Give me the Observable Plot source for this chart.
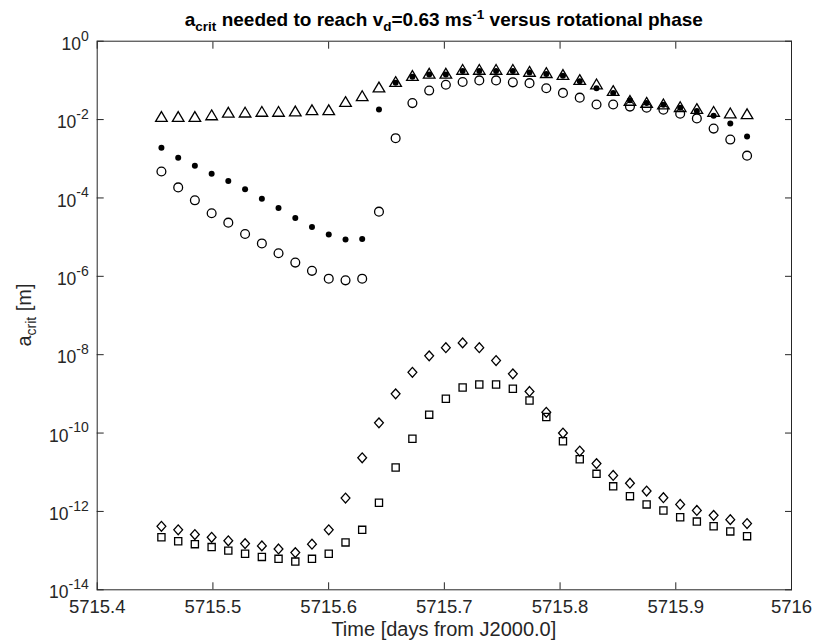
<!DOCTYPE html>
<html>
<head>
<meta charset="utf-8">
<script src="https://cdn.jsdelivr.net/npm/d3@7"></script>
<script src="https://cdn.jsdelivr.net/npm/@observablehq/plot@0.6"></script>
<style>
  html, body { margin: 0; padding: 0; background: #fff; }
  #chart { width: 813px; height: 643px; }
</style>
</head>
<body>
<div id="chart"></div>
<script>
// ---- data ----
const times = [5715.4555, 5715.4700, 5715.4844, 5715.4989, 5715.5133, 5715.5278, 5715.5423, 5715.5567,
  5715.5712, 5715.5856, 5715.6001, 5715.6146, 5715.6290, 5715.6435, 5715.6579, 5715.6724, 5715.6869,
  5715.7013, 5715.7158, 5715.7302, 5715.7447, 5715.7592, 5715.7736, 5715.7881, 5715.8025, 5715.8170,
  5715.8315, 5715.8459, 5715.8604, 5715.8748, 5715.8893, 5715.9038, 5715.9182, 5715.9327, 5715.9471, 5715.9616];

const triangles = [1.20e-2, 1.20e-2, 1.20e-2, 1.32e-2, 1.54e-2, 1.55e-2, 1.62e-2, 1.62e-2, 1.66e-2, 1.78e-2,
  1.78e-2, 2.88e-2, 4.07e-2, 6.76e-2, 9.33e-2, 0.133, 0.152, 0.152, 0.191, 0.191, 0.191, 0.191, 0.170, 0.158,
  0.141, 0.105, 8.13e-2, 5.50e-2, 3.09e-2, 2.75e-2, 2.51e-2, 2.14e-2, 1.91e-2, 1.62e-2, 1.48e-2, 1.41e-2];

const dots = [1.91e-3, 1.06e-3, 6.61e-4, 4.17e-4, 2.69e-4, 1.66e-4, 9.55e-5, 5.50e-5, 3.09e-5, 1.82e-5,
  1.17e-5, 8.7e-6, 8.9e-6, 1.82e-2, 8.7e-2, 0.123, 0.141, 0.141, 0.174, 0.174, 0.174, 0.174, 0.158, 0.145,
  0.132, 9.55e-2, 6.31e-2, 4.79e-2, 3.09e-2, 2.63e-2, 2.40e-2, 2.00e-2, 1.66e-2, 1.26e-2, 7.94e-3, 3.72e-3];

const circles = [4.73e-4, 1.86e-4, 8.7e-5, 4.07e-5, 2.34e-5, 1.20e-5, 6.9e-6, 3.89e-6, 2.24e-6, 1.38e-6,
  8.7e-7, 7.9e-7, 8.7e-7, 4.47e-5, 3.35e-3, 2.63e-2, 5.50e-2, 7.76e-2, 9.12e-2, 0.100, 0.100, 8.91e-2, 8.51e-2,
  6.31e-2, 4.79e-2, 3.63e-2, 2.43e-2, 2.43e-2, 2.14e-2, 2.00e-2, 1.78e-2, 1.41e-2, 1.07e-2, 5.89e-3, 3.09e-3, 1.20e-3];

const diamonds = [4.17e-13, 3.39e-13, 2.57e-13, 2.19e-13, 1.78e-13, 1.51e-13, 1.32e-13, 1.10e-13, 8.9e-14,
  1.46e-13, 3.39e-13, 2.19e-12, 2.34e-11, 1.82e-10, 1.0e-9, 3.55e-9, 9.33e-9, 1.51e-8, 2.0e-8, 1.51e-8, 7.08e-9,
  3.24e-9, 1.15e-9, 3.39e-10, 1.0e-10, 3.47e-11, 1.66e-11, 8.3e-12, 5.25e-12, 3.31e-12, 2.24e-12, 1.51e-12,
  1.06e-12, 7.94e-13, 6.17e-13, 4.90e-13];

const squares = [2.19e-13, 1.74e-13, 1.46e-13, 1.23e-13, 1.0e-13, 8.3e-14, 6.9e-14, 6.17e-14, 5.25e-14,
  6.17e-14, 8.3e-14, 1.62e-13, 3.39e-13, 1.66e-12, 1.32e-11, 7.16e-11, 2.95e-10, 7.5e-10, 1.45e-9, 1.74e-9,
  1.74e-9, 1.35e-9, 6.76e-10, 2.57e-10, 6.17e-11, 2.14e-11, 9.1e-12, 4.37e-12, 2.45e-12, 1.51e-12, 1.06e-12,
  7.08e-13, 5.50e-13, 4.17e-13, 3.09e-13, 2.34e-13];

const xTicks = [5715.4, 5715.5, 5715.6, 5715.7, 5715.8, 5715.9, 5716];
const yTicks = [1, 1e-2, 1e-4, 1e-6, 1e-8, 1e-10, 1e-12, 1e-14];

// ---- helpers ----
const rows = arr => times.map((t, i) => ({t, v: arr[i]}));
const triSym = {draw(ctx) { const w = 5.8, h = 4.9; ctx.moveTo(0, -h); ctx.lineTo(w, h); ctx.lineTo(-w, h); ctx.closePath(); }};
const diaSym = {draw(ctx) { const w = 4.4, h = 4.9; ctx.moveTo(0, -h); ctx.lineTo(w, 0); ctx.lineTo(0, h); ctx.lineTo(-w, 0); ctx.closePath(); }};
const AX = "#262626";
const FONT = "'Liberation Sans', Arial, Helvetica, sans-serif";

const svg = Plot.plot({
  width: 813,
  height: 643,
  marginLeft: 96.7,
  marginRight: 22,
  marginTop: 40.7,
  marginBottom: 53.7,
  style: {fontFamily: FONT, background: "#fff", color: AX, overflow: "visible"},
  x: {domain: [5715.4, 5716]},
  y: {type: "log", domain: [1e-14, 1]},
  marks: [
    Plot.axisX({anchor: "bottom", ticks: xTicks, tickSize: -7, fill: "none", stroke: AX, label: null}),
    Plot.axisX({anchor: "top", ticks: xTicks, tickSize: -7, fill: "none", stroke: AX, label: null}),
    Plot.axisX({anchor: "bottom", ticks: xTicks, tickSize: 0, tickPadding: 10.5, fill: AX, fontSize: 18.5,
      tickFormat: d => String(Math.round(d * 10) / 10), label: null}),
    Plot.axisY({anchor: "left", ticks: yTicks, tickSize: -7, fill: "none", stroke: AX, label: null}),
    Plot.axisY({anchor: "right", ticks: yTicks, tickSize: -7, fill: "none", stroke: AX, label: null}),
    Plot.axisY({anchor: "left", ticks: yTicks, tickSize: 0, tickPadding: 8.4, fill: AX, fontSize: 17.5,
      tickFormat: d => String(Math.round(Math.log10(d))), label: null}),
    Plot.frame({stroke: AX, strokeWidth: 1}),
    Plot.dot(rows(squares), {x: "t", y: "v", symbol: "square", r: 4.05, stroke: "#000", strokeWidth: 1.3, fill: "none"}),
    Plot.dot(rows(diamonds), {x: "t", y: "v", symbol: diaSym, r: 4.5, stroke: "#000", strokeWidth: 1.3, fill: "none"}),
    Plot.dot(rows(circles), {x: "t", y: "v", symbol: "circle", r: 4.4, stroke: "#000", strokeWidth: 1.3, fill: "none"}),
    Plot.dot(rows(triangles), {x: "t", y: "v", symbol: triSym, r: 4.5, stroke: "#000", strokeWidth: 1.3, fill: "none"}),
    Plot.dot(rows(dots), {x: "t", y: "v", r: 3, fill: "#000", stroke: "none"})
  ]
});

document.getElementById("chart").appendChild(svg);

// ---- rich text: exponents, subscripts ----
const s = d3.select(svg);
s.selectAll('g[aria-label="y-axis tick label"] text').each(function () {
  const e = this.textContent;
  const t = d3.select(this);
  t.text(null).attr("y", 8.6);
  t.append("tspan").text("10");
  t.append("tspan").attr("font-size", 14).attr("dy", -9.3).text(e);
});

// x label
s.append("text")
  .attr("x", 443.85).attr("y", 636).attr("text-anchor", "middle")
  .attr("font-family", FONT).attr("font-size", 20).attr("fill", AX)
  .text("Time [days from J2000.0]");

// y label
const yl = s.append("text")
  .attr("transform", "translate(31,315) rotate(-90)").attr("text-anchor", "middle")
  .attr("font-family", FONT).attr("font-size", 20).attr("fill", AX);
yl.append("tspan").text("a");
yl.append("tspan").attr("font-size", 14).attr("dy", 5).text("crit");
yl.append("tspan").attr("dy", -5).text(" [m]");

// title
const ti = s.append("text")
  .attr("x", 443.85).attr("y", 26).attr("text-anchor", "middle")
  .attr("font-family", FONT).attr("font-size", 19).attr("font-weight", "bold").attr("fill", "#000");
ti.append("tspan").text("a");
ti.append("tspan").attr("font-size", 13.5).attr("dy", 5).text("crit");
ti.append("tspan").attr("dy", -5).text(" needed to reach v");
ti.append("tspan").attr("font-size", 13.5).attr("dy", 5).text("d");
ti.append("tspan").attr("dy", -5).text("=0.63 ms");
ti.append("tspan").attr("font-size", 13.5).attr("dy", -7).text("-1");
ti.append("tspan").attr("dy", 7).text(" versus rotational phase");
</script>
</body>
</html>
